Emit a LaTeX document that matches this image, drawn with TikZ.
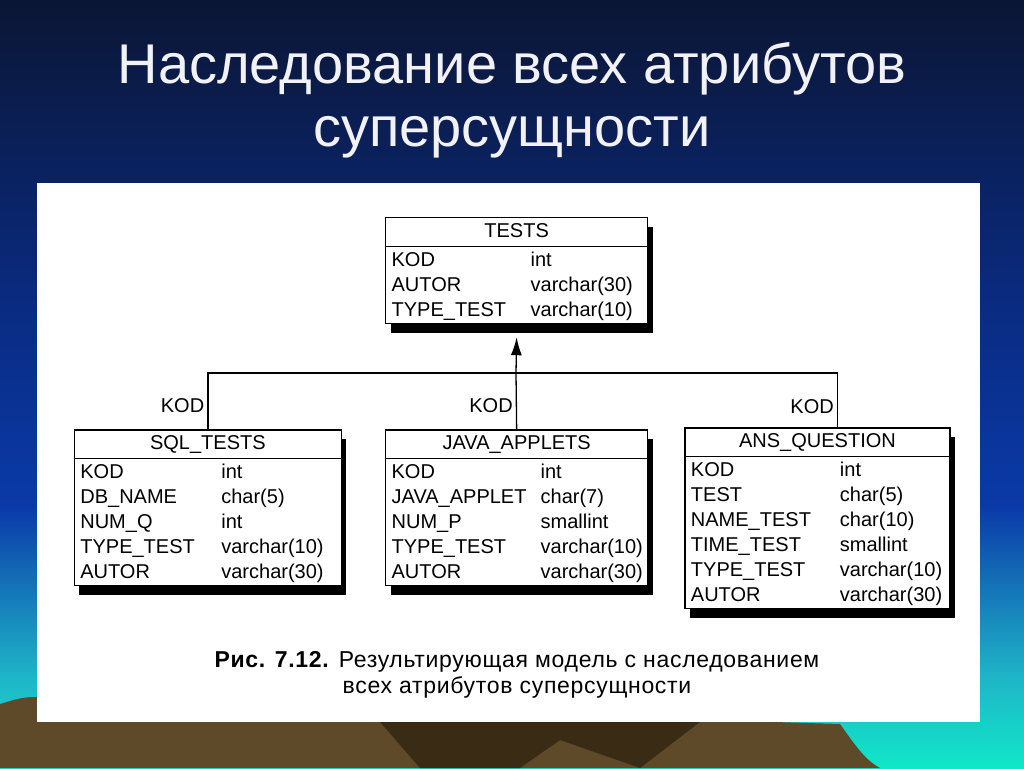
\documentclass[tikz,border=0pt]{standalone}
\usepackage{fontspec}
\setmainfont{Liberation Sans}
\newfontfamily\capfont[LetterSpace=3]{Liberation Sans}
\usetikzlibrary{arrows.meta, positioning, shadows}
\definecolor{slidetop}{HTML}{0B1634}
\definecolor{slidemid}{HTML}{0A2A7E}
\definecolor{slideblue}{HTML}{0A3AA8}
\definecolor{slideteal}{HTML}{1FB4C8}
\definecolor{slidecyan}{HTML}{10E8C8}
\definecolor{earth}{HTML}{5E4A28}
\definecolor{earthdark}{HTML}{3A2C14}
\definecolor{titlewhite}{HTML}{F2F2F6}
% stops: 25bp = bottom edge, 75bp = top edge of the filled path
\pgfdeclareverticalshading{slidebg}{100bp}{color(0bp)=(slidecyan); color(25bp)=(slidecyan);
  color(31bp)=(slideteal); color(42bp)=(slideblue); color(56bp)=(slidemid);
  color(75bp)=(slidetop); color(100bp)=(slidetop)}

% table: name column width, total width, title, rows
\newcommand{\enttable}[4]{%
  \begin{tabular}{@{\hspace{6pt}}p{#1}@{}p{\dimexpr#2-#1-6pt\relax}@{}}
    \multicolumn{2}{c}{\rule[-8pt]{0pt}{28pt}#3}\\\hline
    \rule{0pt}{20pt}#4
  \end{tabular}}

\begin{document}
\begin{tikzpicture}[x=1pt, y=-1pt,
  entity/.style={draw, line width=1.3pt, fill=white, inner sep=0pt, anchor=north west,
    font=\fontsize{20}{25}\selectfont,
    drop shadow={shadow xshift=5pt, shadow yshift=-9pt, fill=black, opacity=1}},
  link/.style={line width=1.3pt},
  kod/.style={left, inner sep=3pt, font=\fontsize{20}{25}\selectfont},
  title/.style={align=center, font=\fontsize{56}{63}\selectfont}
]
\useasboundingbox (0,0) rectangle (1024,768);
% slide background
\shade[shading=slidebg] (0,0) rectangle (1024,768);
\fill[earth] (0,704) .. controls (20,698) and (30,694) .. (60,700) -- (840,724)
  .. controls (855,745) and (865,760) .. (880,768) -- (0,768) -- cycle;
\fill[earthdark] (380,722) -- (420,768) -- (520,768) -- (560,740) -- (640,768) -- (700,722) -- cycle;

\node[title, text=titlewhite] (head) at (512,100) {Наследование всех атрибутов\\суперсущности};

% white panel
\fill[white] (37,183) rectangle (980,722);

% entities
\node[entity] (tests) at (385,217)
  {\enttable{139pt}{262pt}{TESTS}{KOD & int\\ AUTOR & varchar(30)\\ TYPE\_TEST & varchar(10)}};
\node[entity, below=105pt of tests.south west, anchor=north west] (java)
  {\enttable{149pt}{262pt}{JAVA\_APPLETS}{KOD & int\\ JAVA\_APPLET & char(7)\\ NUM\_P & smallint\\
    TYPE\_TEST & varchar(10)\\ AUTOR & varchar(30)}};
\node[entity, left=43pt of java.north west, anchor=north east] (sql)
  {\enttable{141pt}{267pt}{SQL\_TESTS}{KOD & int\\ DB\_NAME & char(5)\\ NUM\_Q & int\\
    TYPE\_TEST & varchar(10)\\ AUTOR & varchar(30)}};
\node[entity, right=36pt of java.north east, anchor=north west, yshift=2pt] (ans)
  {\enttable{149pt}{265pt}{ANS\_QUESTION}{KOD & int\\ TEST & char(5)\\ NAME\_TEST & char(10)\\
    TIME\_TEST & smallint\\ TYPE\_TEST & varchar(10)\\ AUTOR & varchar(30)}};

% inheritance links
\coordinate (bus) at (516,373);
\coordinate (ansdrop) at ([xshift=20pt]ans.north);
\draw[link] (sql.north) -- node[kod, pos=0.42]{KOD} (sql.north |- bus) -- (ansdrop |- bus)
  -- node[kod, pos=0.62]{KOD} (ansdrop);
\draw[link] (java.north) -- node[kod, pos=0.42]{KOD} (bus);
\draw[link, -{Latex[length=18pt, width=11pt]}] (bus) -- ([yshift=-13pt]tests.south);

\node[align=center, font=\capfont\fontsize{23}{26}\selectfont] (caption) at (517,675)
  {\textbf{Рис. 7.12.} Результирующая модель с наследованием\\всех атрибутов суперсущности};
\end{tikzpicture}
\end{document}
